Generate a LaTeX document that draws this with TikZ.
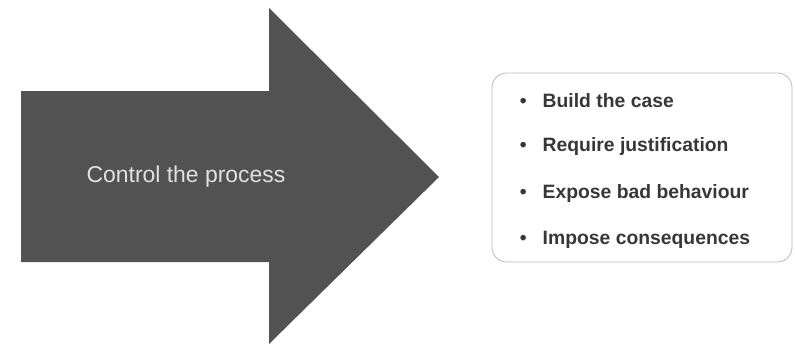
\documentclass[tikz,border=0pt]{standalone}
\usepackage{fontspec}
\setmainfont{Liberation Sans}
\definecolor{arrowgray}{RGB}{82,82,82}
\definecolor{labelgray}{RGB}{225,225,225}
\definecolor{itemgray}{RGB}{55,55,55}
\definecolor{framegray}{RGB}{185,185,185}
\tikzset{every picture/.style={line width=0.75pt}}
\begin{document}
\begin{tikzpicture}[x=0.75pt,y=0.75pt,yscale=-1,xscale=1]
    %set diagram size
    \path (0,0) rectangle (795,344);
    
    %Shape: Right Arrow [id:dp_arrow] 
    \fill [arrowgray] (21,91) -- (269,91) -- (269,8) -- (439,177) -- (269,344) -- (269,262) -- (21,262) -- cycle ;
    %Text [id:dp_label] 
    \node [text=labelgray, font=\fontsize{17.2}{19}\selectfont] (label) at (186,177) {Control the process};
    
    %Rounded Rect [id:dp_frame] 
    \draw [framegray, line width=0.6pt, rounded corners=11] (492,73) rectangle (792,262) ;
    %Text [id:dp_items] 
    \node [text=itemgray, anchor=west, font=\fontsize{14.5}{16}\bfseries\selectfont] (build) at (515,101) {\textbullet\hspace{12pt}Build the case};
    \node [text=itemgray, anchor=west, font=\fontsize{14.5}{16}\bfseries\selectfont] (require) at (515,146) {\textbullet\hspace{12pt}Require justification};
    \node [text=itemgray, anchor=west, font=\fontsize{14.5}{16}\bfseries\selectfont] (expose) at (515,193) {\textbullet\hspace{12pt}Expose bad behaviour};
    \node [text=itemgray, anchor=west, font=\fontsize{14.5}{16}\bfseries\selectfont] (impose) at (515,240) {\textbullet\hspace{12pt}Impose consequences};
    
\end{tikzpicture}
\end{document}
